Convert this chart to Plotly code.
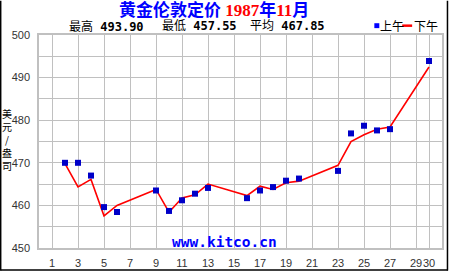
import plotly.graph_objects as go

# Data: November 1987 London gold fix (USD/oz)
am_days = [2, 3, 4, 5, 6, 9, 10, 11, 12, 13, 16, 17, 18, 19, 20, 23, 24, 25, 26, 27, 30]
am_vals = [470.0, 470.0, 467.0, 459.6, 458.45, 463.5, 458.7, 461.2, 462.75, 464.1,
           461.7, 463.5, 464.3, 465.8, 466.3, 468.1, 476.9, 478.7, 477.6, 477.9, 493.9]
pm_days = [2, 3, 4, 5, 6, 9, 10, 11, 12, 13, 16, 17, 18, 19, 20, 23, 24, 25, 26, 27, 30]
pm_vals = [469.8, 464.35, 466.1, 457.55, 460.0, 463.75, 458.4, 461.75, 462.5, 465.0,
           462.3, 464.5, 463.75, 465.3, 465.7, 469.4, 475.0, 476.6, 477.9, 478.4, 492.5]

x_tickvals = [1, 3, 5, 7, 9, 11, 13, 15, 17, 19, 21, 23, 25, 27, 29, 30]
x_ticktext = [str(v) for v in x_tickvals]
y_tickvals = [450, 455, 460, 465, 470, 475, 480, 485, 490, 495, 500]
y_ticktext = [str(v) if v % 10 == 0 else "" for v in y_tickvals]

stats_high = "493.90"
stats_low = "457.55"
stats_avg = "467.85"

# Layout geometry (pixels)
W, H = 450, 275
L, R, T, B = 39, 6, 35, 23
PW, PH = W - L - R, H - T - B


def px(xp):
    return (xp - L) / PW


def py(yp):
    return (H - B - yp) / PH


GRID = "#c0c0c0"
BLUE = "#0000ff"
MARK = "#0000c8"
RED = "#ff0000"
CJK = "Noto Sans CJK SC"
MONO = "DejaVu Sans Mono"


def ann(**kw):
    d = dict(xref="paper", yref="paper", showarrow=False)
    d.update(kw)
    return d


fig = go.Figure()
fig.add_trace(go.Scatter(x=pm_days, y=pm_vals, mode="lines",
                         line=dict(color=RED, width=1.6), name="下午",
                         showlegend=False, hoverinfo="skip"))
fig.add_trace(go.Scatter(x=am_days, y=am_vals, mode="markers",
                         marker=dict(symbol="square", size=6, color=MARK,
                                     line=dict(width=0)),
                         name="上午", showlegend=False, hoverinfo="skip"))

annotations = [
    ann(text=("<b>黄金伦敦定价 "
              f"<span style=\"color:{RED}\">1987</span>"
              "年"
              f"<span style=\"color:{RED}\">11</span>"
              "月</b>"),
        x=px(215), y=py(10), xanchor="center", yanchor="middle",
        font=dict(family=f"Liberation Serif, {CJK}", size=17, color=BLUE)),
    ann(text=f"最高 <b>{stats_high}</b>",
        x=px(67), y=py(26), xanchor="left", yanchor="middle",
        font=dict(family=f"{MONO}, {CJK}", size=12, color="#000000")),
    ann(text=f"最低 <b>{stats_low}</b>",
        x=px(161), y=py(26), xanchor="left", yanchor="middle",
        font=dict(family=f"{MONO}, {CJK}", size=12, color="#000000")),
    ann(text=f"平均 <b>{stats_avg}</b>",
        x=px(249), y=py(26), xanchor="left", yanchor="middle",
        font=dict(family=f"{MONO}, {CJK}", size=12, color="#000000")),
    ann(text="上午", x=px(380), y=py(25), xanchor="left", yanchor="middle",
        font=dict(family=CJK, size=12, color="#000000")),
    ann(text="下午", x=px(414), y=py(25), xanchor="left", yanchor="middle",
        font=dict(family=CJK, size=12, color="#000000")),
    ann(text="美<br>元<br>/<br>盎<br>司", x=px(7), y=py(141), xanchor="center",
        yanchor="middle", align="center",
        font=dict(family=CJK, size=10, color="#000000")),
    ann(text="<b>www.kitco.cn</b>", x=px(171), y=py(246), xanchor="left",
        yanchor="middle", font=dict(family=MONO, size=14.5, color=BLUE)),
]

shapes = [
    # legend marks
    dict(type="rect", xref="paper", yref="paper", x0=px(376), x1=px(381),
         y0=py(28), y1=py(23), fillcolor=BLUE, line=dict(width=0)),
    dict(type="line", xref="paper", yref="paper", x0=px(404), x1=px(414),
         y0=py(25.5), y1=py(25.5), line=dict(color=RED, width=2.5)),
    # outer frame (left, right, bottom)
    dict(type="line", xref="paper", yref="paper", x0=px(0.5), x1=px(0.5),
         y0=py(0), y1=py(275), line=dict(color="#000000", width=1.5)),
    dict(type="line", xref="paper", yref="paper", x0=px(449.5), x1=px(449.5),
         y0=py(0), y1=py(275), line=dict(color="#000000", width=1.5)),
    dict(type="line", xref="paper", yref="paper", x0=px(0), x1=px(450),
         y0=py(274.5), y1=py(274.5), line=dict(color="#000000", width=1.5)),
]

fig.update_layout(
    width=W, height=H,
    margin=dict(l=L, r=R, t=T, b=B, pad=0),
    paper_bgcolor="#ffffff", plot_bgcolor="#ffffff",
    showlegend=False,
    annotations=annotations,
    shapes=shapes,
    xaxis=dict(range=[0, 31], tickvals=x_tickvals, ticktext=x_ticktext,
               showgrid=True, gridcolor=GRID, gridwidth=1,
               showline=True, linecolor=GRID, linewidth=1.5, mirror=True,
               zeroline=False, ticks="", ticklabelstandoff=4, tickangle=0,
               tickfont=dict(family="Liberation Sans", size=11, color="#333333"),
               fixedrange=True),
    yaxis=dict(range=[450, 500], tickvals=y_tickvals, ticktext=y_ticktext,
               showgrid=True, gridcolor=GRID, gridwidth=1,
               showline=True, linecolor=GRID, linewidth=1.5, mirror=True,
               zeroline=False, ticks="", ticklabelstandoff=5,
               tickfont=dict(family="Liberation Sans", size=11, color="#333333"),
               fixedrange=True),
)

fig.write_html("out.html")
